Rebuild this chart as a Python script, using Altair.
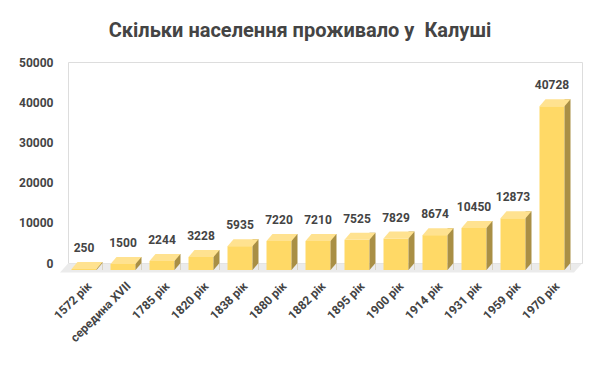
import altair as alt
import pandas as pd

categories = ["1572 рік", "середина XVII", "1785 рік", "1820 рік", "1838 рік",
              "1880 рік", "1882 рік", "1895 рік", "1900 рік", "1914 рік",
              "1931 рік", "1959 рік", "1970 рік"]
values = [250, 1500, 2244, 3228, 5935, 7220, 7210, 7525, 7829, 8674, 10450, 12873, 40728]
y_ticks = [0, 10000, 20000, 30000, 40000, 50000]
title_text = "Скільки населення проживало у \u00a0Калуші"

df = pd.DataFrame({"period": categories, "population": values})

W, H = 514, 201
TEXT = "#444444"
FRONT_C = "#FFD966"
TOP_C = "#FFE290"
SIDE_C = "#A98F45"
FLOOR_C = "#EBEBEB"

# custom symbol paths (unit box -1..1)
top_path = "M -1 0.2258 L 0.6129 0.2258 L 1 -0.2258 L -0.6129 -0.2258 Z"
tri_path = "M -0.857 1 L 0.857 1 L 0.857 -1 Z"
floor_path = "M -1 0.01724 L 0.9693 0.01724 L 1 -0.01724 L -0.9693 -0.01724 Z"

xenc = alt.X("period:N", sort=categories, title=None,
             scale=alt.Scale(type="band", range=[-3.5, 503.5], paddingInner=0, paddingOuter=0),
             axis=alt.Axis(labelAngle=-45, labelAlign="right", labelBaseline="top",
                           labelFontSize=12, labelFontWeight="bold", labelColor=TEXT,
                           labelFont="Roboto", labelPadding=17, labelOffset=2, ticks=False,
                           domain=False, grid=False))
yenc = alt.Y("population:Q", title=None,
             scale=alt.Scale(domain=[0, 50000], nice=False),
             axis=alt.Axis(values=y_ticks, format="d", labelFontSize=12, labelFontWeight="bold",
                           labelColor=TEXT, labelFont="Roboto", labelPadding=15, ticks=False,
                           domain=False,
                           gridColor=alt.condition("datum.value === 0", alt.value("#333333"), alt.value("#CCCCCC"))))

base = alt.Chart(df)

floor = alt.Chart(pd.DataFrame({"z": [0]})).mark_point(
    shape=floor_path, size=522 ** 2, filled=True, opacity=1, color=FLOOR_C, strokeWidth=0, yOffset=5
).encode(x=alt.value(253), y=alt.datum(0))

front = base.mark_bar(color=FRONT_C, size=25, yOffset=7, y2Offset=7).encode(
    x=xenc, y=yenc, y2=alt.datum(0))

side = base.mark_bar(color=SIDE_C, size=6, xOffset=15.5, y2Offset=7).encode(
    x=xenc, y=yenc, y2=alt.datum(0))

tri = base.mark_point(shape=tri_path, size=49, filled=True, opacity=1, color=FLOOR_C,
                      strokeWidth=0, xOffset=15.5, yOffset=3.5).encode(x=xenc, y=alt.datum(0))

top = base.mark_point(shape=top_path, size=961, filled=True, opacity=1, color=TOP_C,
                      strokeWidth=0, xOffset=3, yOffset=3.5).encode(x=xenc, y=yenc)

labels = base.mark_text(dy=-10, baseline="alphabetic", fontSize=12, fontWeight="bold",
                        color=TEXT, font="Roboto").encode(
    x=xenc, y=yenc, text=alt.Text("population:Q", format="d"))

chart = alt.layer(floor, front, side, tri, top, labels).properties(
    width=W, height=H,
    title=alt.TitleParams(title_text, fontSize=20, font="Roboto", fontWeight="bold",
                          color=TEXT, anchor="middle", dx=-25, dy=-11),
    autosize=alt.AutoSizeParams(type="none"),
    padding={"left": 60, "top": 54, "right": 10, "bottom": 100},
).configure_view(stroke=None).configure(background="white")

chart.save("out.html", embed_options={"renderer": "svg", "actions": False})
